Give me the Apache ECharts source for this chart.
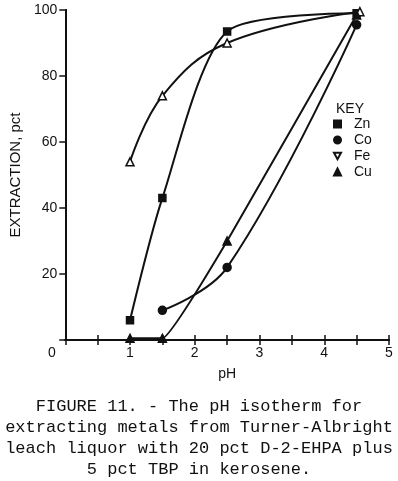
<!DOCTYPE html>
<html><head><meta charset="utf-8">
<script src="https://cdn.jsdelivr.net/npm/echarts@6/dist/echarts.min.js"></script>
<style>html,body{margin:0;padding:0;background:#fff;}#c{width:398px;height:481px;}</style>
</head><body><div id="c"></div>
<script>
const xTicks = [0, 1, 2, 3, 4, 5];
const yTicks = [20, 40, 60, 80, 100];
const znData = [[1, 6], [1.5, 43], [2.5, 93.5], [4.5, 99]];
const coData = [[1.5, 9], [2.5, 22], [4.5, 95.5]];
const feData = [[1, 54], [1.5, 74], [2.5, 90], [4.55, 99.5]];
const cuData = [[1, 0.5], [1.5, 0.5], [2.5, 30], [4.5, 98.5]];
const caption = ['FIGURE 11. - The pH isotherm for', 'extracting metals from Turner-Albright', 'leach liquor with 20 pct D-2-EHPA plus', '5 pct TBP in kerosene.'];

const chart = echarts.init(document.getElementById('c'));
const axisFont = {fontFamily: 'Liberation Sans', fontSize: 14, color: '#111'};
const blk = '#111';
function series(name, data, symbol, filled, smooth) {
  return {
    name, type: 'line', data, symbol, symbolSize: symbol === 'rect' ? 7 : 8,
    smooth, lineStyle: {color: blk, width: 2},
    itemStyle: {color: filled ? blk : '#fff', borderColor: blk, borderWidth: 1.5},
    emphasis: {disabled: true}, z: 3
  };
}
chart.setOption({
  animation: false,
  grid: {left: 64, top: 10, right: 9, bottom: 141},
  xAxis: [{
    type: 'value', min: 0, max: 5, interval: 0.5, position: 'bottom',
    axisLine: {lineStyle: {color: blk, width: 2}},
    axisTick: {inside: true, length: 5, lineStyle: {color: blk, width: 1.5}},
    splitLine: {show: false},
    axisLabel: Object.assign({margin: 6, formatter: v => (Number.isInteger(v) && v > 0 && xTicks.includes(v)) ? String(v) : ''}, axisFont),
    name: 'pH', nameLocation: 'middle', nameGap: 27, nameTextStyle: axisFont
  }, {
    type: 'value', min: 0, max: 5, interval: 0.5, position: 'top',
    axisLine: {lineStyle: {color: blk, width: 2}},
    axisTick: {inside: true, length: 5, lineStyle: {color: blk, width: 1.5}},
    axisLabel: {show: false}, splitLine: {show: false}
  }],
  yAxis: [{
    type: 'value', min: 0, max: 100, interval: 20, position: 'left',
    axisLine: {lineStyle: {color: blk, width: 2}},
    axisTick: {inside: false, length: 6, lineStyle: {color: blk, width: 1.5}},
    splitLine: {show: false},
    axisLabel: Object.assign({margin: 8, formatter: v => yTicks.includes(v) ? String(v) : ''}, axisFont),
    name: 'EXTRACTION, pct', nameLocation: 'middle', nameGap: 23,
    nameTextStyle: {fontFamily: 'Liberation Sans', fontSize: 15, color: '#111'}
  }, {
    type: 'value', min: 0, max: 100, interval: 20, position: 'right',
    axisLine: {lineStyle: {color: blk, width: 2}},
    axisTick: {inside: true, length: 6, lineStyle: {color: blk, width: 1.5}},
    axisLabel: {show: false}, splitLine: {show: false}
  }],
  legend: {
    orient: 'vertical', left: 333, top: 117, itemWidth: 7, itemHeight: 7, itemGap: 2, padding: 0,
    textStyle: {fontFamily: 'Liberation Sans', fontSize: 14, color: '#111', lineHeight: 12, padding: [0, 0, 0, 8]},
    data: [
      {name: 'Zn', icon: 'rect'},
      {name: 'Co', icon: 'circle'},
      {name: 'Fe', icon: 'path://M0,0L10,0L5,9Z'},
      {name: 'Cu', icon: 'triangle'}
    ]
  },
  graphic: [
    {type: 'text', left: 336, top: 102, style: {text: 'KEY', font: '14px "Liberation Sans"', fill: '#111'}},
    {type: 'text', left: 48, top: 346, style: {text: '0', font: '14px "Liberation Sans"', fill: '#111'}},
    {type: 'text', left: 'center', top: 396, style: {text: caption.join('\n'), font: '17px "Liberation Mono"', fill: '#111', textAlign: 'center', lineHeight: 21}}
  ],
  series: [
    series('Zn', znData, 'rect', true, 0.25),
    series('Co', coData, 'circle', true, 0.4),
    series('Fe', feData, 'triangle', false, 0.4),
    series('Cu', cuData, 'triangle', true, 0.1)
  ]
});
</script></body></html>
